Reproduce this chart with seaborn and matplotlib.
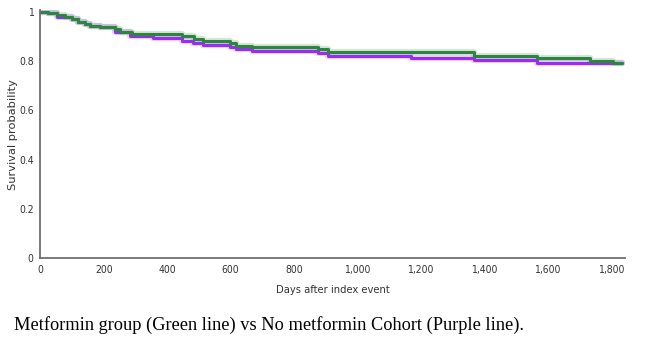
import numpy as np
import pandas as pd
import matplotlib
matplotlib.use("Agg")
import matplotlib.pyplot as plt
import matplotlib.ticker as mticker
from matplotlib.font_manager import FontProperties
import seaborn as sns

# Kaplan-Meier step estimates (day of event, survival after the step)
metformin_days = [0, 23, 52, 77, 99, 118, 140, 156, 188, 235, 251, 288, 446,
                  484, 512, 597, 616, 667, 875, 906, 1367, 1568, 1735, 1808, 1836]
metformin_surv = [1.000, 0.9935, 0.9866, 0.9797, 0.9704, 0.9594, 0.9501, 0.9432,
                  0.9367, 0.9298, 0.9189, 0.9095, 0.9014, 0.8913, 0.8832, 0.8742,
                  0.8629, 0.8556, 0.8475, 0.8385, 0.8215, 0.8110, 0.8012, 0.7931,
                  0.7931]

no_metformin_days = [0, 23, 52, 99, 118, 140, 156, 188, 235, 282, 355, 446, 481,
                     512, 597, 616, 667, 875, 906, 1171, 1367, 1568, 1836]
no_metformin_surv = [1.000, 0.9935, 0.9797, 0.9704, 0.9594, 0.9501, 0.9432,
                     0.9367, 0.9189, 0.9014, 0.8921, 0.8811, 0.8718, 0.8661,
                     0.8580, 0.8475, 0.8398, 0.8312, 0.8223, 0.8122, 0.8053,
                     0.7931, 0.7931]

group_names = ["No metformin", "Metformin"]
group_colors = {"No metformin": "#9a2cf5", "Metformin": "#2e8540"}

y_ticks = [0, 0.2, 0.4, 0.6, 0.8, 1.0]
y_tick_labels = ["0", "0.2", "0.4", "0.6", "0.8", "1"]
x_ticks = [0, 200, 400, 600, 800, 1000, 1200, 1400, 1600, 1800]

caption = "Metformin group (Green line) vs No metformin Cohort (Purple line)."

df = pd.concat([
    pd.DataFrame({"day": no_metformin_days, "surv": no_metformin_surv,
                  "group": "No metformin"}),
    pd.DataFrame({"day": metformin_days, "surv": metformin_surv,
                  "group": "Metformin"}),
], ignore_index=True)

sns.set_style("white")

fig = plt.figure(figsize=(6.52, 3.41), dpi=100)
ax = fig.add_axes([0.0621, 0.2428, 0.8965, 0.7279])

for g in group_names:
    sub = df[df["group"] == g]
    # soft halo under each curve
    sns.lineplot(data=sub, x="day", y="surv", ax=ax, color=group_colors[g],
                 linewidth=4.5, alpha=0.2, drawstyle="steps-post",
                 estimator=None, legend=False)
    sns.lineplot(data=sub, x="day", y="surv", ax=ax, color=group_colors[g],
                 linewidth=2.2, drawstyle="steps-post",
                 estimator=None, legend=False)

ax.set_xlim(0, 1845)
ax.set_ylim(0, 1.007)
ax.set_yticks(y_ticks)
ax.set_yticklabels(y_tick_labels)
ax.set_xticks(x_ticks)
ax.xaxis.set_major_formatter(mticker.FuncFormatter(lambda v, p: f"{int(v):,}"))

for side in ["top", "right"]:
    ax.spines[side].set_visible(False)
for side in ["left", "bottom"]:
    ax.spines[side].set_color("#6e6e6e")
    ax.spines[side].set_linewidth(1.3)

narrow = FontProperties(family="DejaVu Sans", stretch="condensed", size=7.5)
ax.tick_params(axis="both", which="major", direction="out", length=4,
               width=0.8, color="#6e6e6e", labelcolor="#333333", pad=1)
for lab in ax.get_xticklabels() + ax.get_yticklabels():
    lab.set_fontproperties(narrow)

ax.set_xlabel("Days after index event",
              fontproperties=FontProperties(family="DejaVu Sans",
                                            stretch="condensed", size=8),
              color="#333333", labelpad=7)
ax.set_ylabel("Survival probability", family="DejaVu Sans", fontsize=8.2,
              color="#333333")
ax.yaxis.set_label_coords(-0.039, 0.5)

fig.text(14 / 652, 1 - 325 / 341, caption,
         family=["Liberation Serif", "DejaVu Serif"],
         fontsize=13.2, color="#000000", va="center", ha="left")

fig.savefig("out.png", dpi=100)
